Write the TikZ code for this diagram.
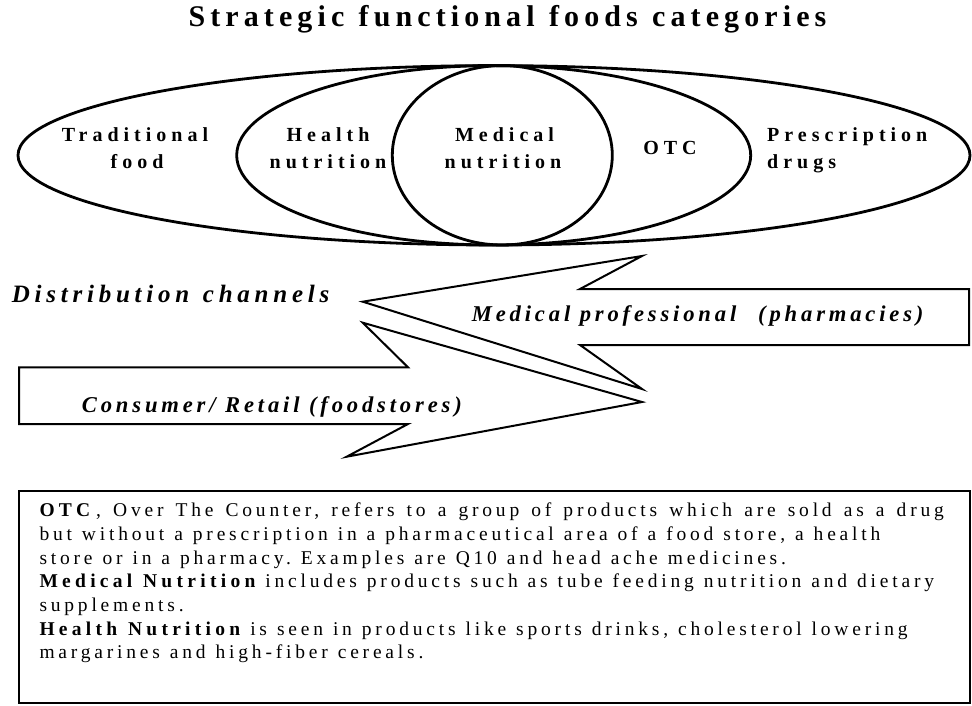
\documentclass[tikz,border=0pt]{standalone}
\usepackage{fontspec}
\setmainfont{Liberation Serif}
% widen the interword space of the font in force (letter-spaced text)
\newcommand\wordgap[1]{\fontdimen2\font=#1em\relax\fontdimen7\font=0pt\relax}
% bold run inside the notes, spaced a little wider
\newcommand\notebf[1]{{\bfseries\addfontfeature{LetterSpace=22}\wordgap{0.55}#1}}
\begin{document}
\begin{tikzpicture}[x=1pt,y=-1pt,
  titletext/.style={anchor=base, inner sep=0pt,
    font=\fontsize{30}{36}\selectfont\bfseries\addfontfeature{LetterSpace=17}\wordgap{0.48}},
  catlabel/.style={anchor=base, inner sep=0pt,
    font=\fontsize{20}{24}\selectfont\bfseries\addfontfeature{LetterSpace=25}},
  catlabelleft/.style={catlabel, anchor=base west},
  channel/.style={anchor=base west, inner sep=0pt,
    font=\fontsize{22.6}{27}\selectfont\bfseries\itshape\addfontfeature{LetterSpace=17}\wordgap{0.42}},
  heading/.style={anchor=base west, inner sep=0pt,
    font=\fontsize{25}{30}\selectfont\bfseries\itshape\addfontfeature{LetterSpace=19}\wordgap{0.55}},
  note/.style={anchor=base west, inner sep=0pt,
    font=\fontsize{19.5}{23.7}\selectfont\addfontfeature{LetterSpace=19.5}\wordgap{0.51}},
  ring/.style={draw=black, line width=2.8pt},
  bigarrow/.style={draw=black, fill=white, line width=2pt, line join=miter},
  notebox/.style={draw=black, line width=2pt}
]
\useasboundingbox (0,0) rectangle (972,706);

% title
\node[titletext] (title) at (507.5,27) {Strategic functional foods categories};

% nested categories
\draw[ring] (494,155.3) ellipse [x radius=476, y radius=89.7];
\draw[ring] (493.7,155.3) ellipse [x radius=257, y radius=89.7];
\draw[ring] (502.3,155.3) ellipse [x radius=110, y radius=89.7];

\node[catlabel] (trad1) at (135,141.7) {Traditional};
\node[catlabel] (trad2) at (137,168.4) {food};
\node[catlabel] (hlth1) at (328,141.7) {Health};
\node[catlabel] (hlth2) at (328,168.4) {nutrition};
\node[catlabel] (med1) at (504.5,141.7) {Medical};
\node[catlabel] (med2) at (503,168.4) {nutrition};
\node[catlabel] (otc) at (670,154) {OTC};
\node[catlabelleft] (pres1) at (767,141.7) {Prescription};
\node[catlabelleft] (pres2) at (767,168.4) {drugs};

% distribution channels
\node[heading] (dist) at (11.7,302.7) {Distribution channels};

\coordinate (mtip) at (362.7,301.7);
\coordinate (mbarbA) at (642,256);
\coordinate (mnotchA) at (580,289);
\coordinate (mendA) at (969,289);
\coordinate (mendB) at (969,345);
\coordinate (mnotchB) at (580,345);
\coordinate (mbarbB) at (642,389);
\draw[bigarrow] (mtip) -- (mbarbA) -- (mnotchA) -- (mendA) -- (mendB)
  -- (mnotchB) -- (mbarbB) -- cycle;

\coordinate (rtip) at (642,402);
\coordinate (rbarbA) at (362.7,322.7);
\coordinate (rnotchA) at (408,367.3);
\coordinate (rendA) at (19,367.3);
\coordinate (rendB) at (19,424);
\coordinate (rnotchB) at (408,424);
\coordinate (rbarbB) at (346.7,456.7);
\draw[bigarrow] (rtip) -- (rbarbA) -- (rnotchA) -- (rendA) -- (rendB)
  -- (rnotchB) -- (rbarbB) -- cycle;

\node[channel] (medprof) at (471.7,321.7) {Medical professional\hspace{0.55em} (pharmacies)};
\node[channel] (retail) at (81.7,412.3) {Consumer/ Retail (foodstores)};

% explanatory notes
\draw[notebox] (19,490.7) rectangle (970,703);
\node[note] (n1) at (39.3,516.7) {\spaceskip=0.62em\relax\notebf{OTC}\hspace{0.3em}, Over The Counter, refers to a group of products which are sold as a drug};
\node[note] (n2) at (39.3,540.4) {but without a prescription in a pharmaceutical area of a food store, a health};
\node[note] (n3) at (39.3,564.1) {store or in a pharmacy. Examples are Q10 and head ache medicines.};
\node[note] (n4) at (39.3,587.8) {\notebf{Medical Nutrition} includes products such as tube feeding nutrition and dietary};
\node[note] (n5) at (39.3,611.5) {supplements.};
\node[note] (n6) at (39.3,635.2) {\notebf{Health Nutrition} is seen in products like sports drinks, cholesterol lowering};
\node[note] (n7) at (39.3,658.9) {margarines and high-fiber cereals.};
\end{tikzpicture}
\end{document}
